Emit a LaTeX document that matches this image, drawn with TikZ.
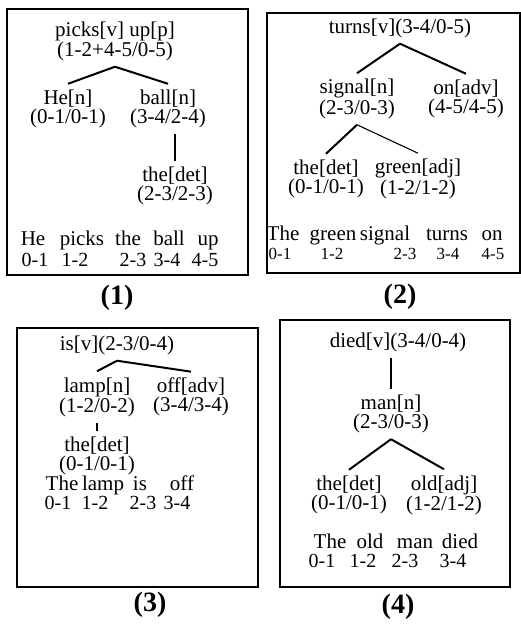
\documentclass[tikz,border=0pt]{standalone}
\usepackage{fontspec}
\setmainfont{Liberation Serif}

\begin{document}
\begin{tikzpicture}[x=1pt, y=-1pt,
    frame/.style={line width=1.4pt},
    branch/.style={line width=2pt},
    lex/.style={align=center, inner sep=6pt, font=\fontsize{21}{19}\selectfont},
    tok/.style={inner sep=0pt, text height=14pt, text depth=4pt, font=\fontsize{21}{19}\selectfont},
    idx/.style={inner sep=0pt, text height=13pt, text depth=4pt, font=\fontsize{20}{19}\selectfont},
    smallidx/.style={inner sep=0pt, text height=11pt, text depth=3pt, font=\fontsize{17}{17}\selectfont},
    tag/.style={font=\bfseries\fontsize{28}{28}\selectfont}]
    \useasboundingbox (0,0) rectangle (521,628);

    \draw[frame] (7,9) rectangle (248,275);
    \node[lex] (rootA) at (115,41) {picks[v] up[p]\\(1-2+4-5/0-5)};
    \node[lex] (heA) at (68,109) {He[n]\\(0-1/0-1)};
    \node[lex] (ballA) at (168,109) {ball[n]\\(3-4/2-4)};
    \node[lex] (theA) at (175,186) {the[det]\\(2-3/2-3)};
    \draw[branch] (rootA.south) -- (heA.north);
    \draw[branch] (rootA.south) -- (ballA.north);
    \draw[branch] (theA.north) -- (theA.north |- ballA.south);
    \node[tok] (wA1) at (33,240) {He};
    \node[tok] (wA2) at (82,240) {picks};
    \node[tok] (wA3) at (128,240) {the};
    \node[tok] (wA4) at (169,240) {ball};
    \node[tok] (wA5) at (208,240) {up};
    \node[idx] (nA1) at (35,262) {0-1};
    \node[idx] (nA2) at (75,262) {1-2};
    \node[idx] (nA3) at (133,262) {2-3};
    \node[idx] (nA4) at (167,262) {3-4};
    \node[idx] (nA5) at (205,262) {4-5};
    \node[tag] (capA) at (117,298) {(1)};

    \draw[frame] (267,13) rectangle (520,273);
    \node[lex] (rootB) at (400,28) {turns[v](3-4/0-5)};
    \node[lex] (signalB) at (357,99) {signal[n]\\(2-3/0-3)};
    \node[lex] (onB) at (466,99) {on[adv]\\(4-5/4-5)};
    \node[lex] (theB) at (326,179) {the[det]\\(0-1/0-1)};
    \node[lex] (greenB) at (418,179) {green[adj]\\(1-2/1-2)};
    \draw[branch] (rootB.south) -- (signalB.north);
    \draw[branch] (rootB.south) -- (onB.north);
    \draw[branch] (signalB.south) -- (theB.north);
    \draw[line width=1.1pt] (signalB.south) -- (greenB.north);
    \node[tok] (wB1) at (283,235) {The};
    \node[tok] (wB2) at (333,235) {green};
    \node[tok] (wB3) at (385,235) {signal};
    \node[tok] (wB4) at (447,235) {turns};
    \node[tok] (wB5) at (492,235) {on};
    \node[smallidx] (nB1) at (280,255) {0-1};
    \node[smallidx] (nB2) at (332,255) {1-2};
    \node[smallidx] (nB3) at (405,255) {2-3};
    \node[smallidx] (nB4) at (448,255) {3-4};
    \node[smallidx] (nB5) at (493,255) {4-5};
    \node[tag] (capB) at (400,297) {(2)};

    \draw[frame] (17,328) rectangle (258,587);
    \node[lex] (rootC) at (117,345) {is[v](2-3/0-4)};
    \node[lex] (lampC) at (97,397) {lamp[n]\\(1-2/0-2)};
    \node[lex] (offC) at (191,397) {off[adv]\\(3-4/3-4)};
    \node[lex] (theC) at (97,456) {the[det]\\(0-1/0-1)};
    \draw[branch] (rootC.south) -- (lampC.north);
    \draw[branch] (rootC.south) -- (offC.north);
    \draw[branch] (lampC.south) -- (theC.north);
    \node[tok] (wC1) at (62,485) {The};
    \node[tok] (wC2) at (103,485) {lamp};
    \node[tok] (wC3) at (140,485) {is};
    \node[tok] (wC4) at (182,485) {off};
    \node[idx] (nC1) at (58,505) {0-1};
    \node[idx] (nC2) at (95,505) {1-2};
    \node[idx] (nC3) at (143,505) {2-3};
    \node[idx] (nC4) at (177,505) {3-4};
    \node[tag] (capC) at (150,605) {(3)};

    \draw[frame] (280,320) rectangle (510,587);
    \node[lex] (rootD) at (398,342) {died[v](3-4/0-4)};
    \node[lex] (manD) at (391,414) {man[n]\\(2-3/0-3)};
    \node[lex] (theD) at (349,495) {the[det]\\(0-1/0-1)};
    \node[lex] (oldD) at (444,495) {old[adj]\\(1-2/1-2)};
    \draw[branch] (manD.north |- rootD.south) -- (manD.north);
    \draw[branch] (manD.south) -- (theD.north);
    \draw[branch] (manD.south) -- (oldD.north);
    \node[tok] (wD1) at (330,543) {The};
    \node[tok] (wD2) at (370,543) {old};
    \node[tok] (wD3) at (415,543) {man};
    \node[tok] (wD4) at (460,543) {died};
    \node[idx] (nD1) at (322,563) {0-1};
    \node[idx] (nD2) at (363,563) {1-2};
    \node[idx] (nD3) at (405,563) {2-3};
    \node[idx] (nD4) at (453,563) {3-4};
    \node[tag] (capD) at (398,607) {(4)};
\end{tikzpicture}
\end{document}
